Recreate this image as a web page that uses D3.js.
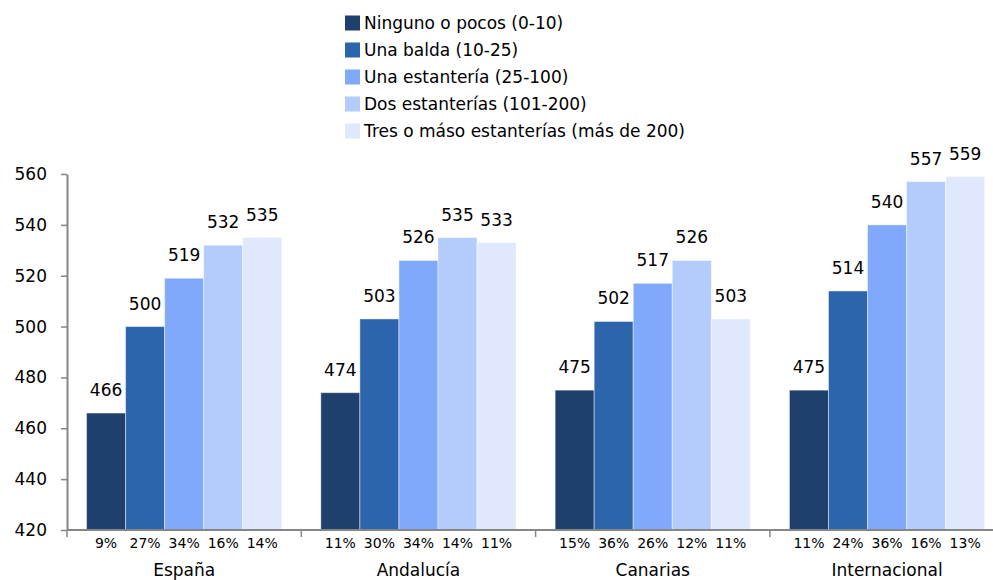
<!DOCTYPE html>
<html><head><meta charset="utf-8">
<script src="https://cdn.jsdelivr.net/npm/d3@7"></script>
<style>body{margin:0;background:#fff}text{font-family:"DejaVu Sans",sans-serif;fill:#000}</style>
</head><body><svg id="c" width="993" height="580"></svg>
<script>
const categories = ["España", "Andalucía", "Canarias", "Internacional"];
const seriesNames = ["Ninguno o pocos (0-10)", "Una balda (10-25)", "Una estantería (25-100)", "Dos estanterías (101-200)", "Tres o máso estanterías (más de 200)"];
const espana = [466, 500, 519, 532, 535];
const andalucia = [474, 503, 526, 535, 533];
const canarias = [475, 502, 517, 526, 503];
const internacional = [475, 514, 540, 557, 559];
const pctEspana = ["9%", "27%", "34%", "16%", "14%"];
const pctAndalucia = ["11%", "30%", "34%", "14%", "11%"];
const pctCanarias = ["15%", "36%", "26%", "12%", "11%"];
const pctInternacional = ["11%", "24%", "36%", "16%", "13%"];
const yTicks = [420, 440, 460, 480, 500, 520, 540, 560];
const colors = ["#1F3F6D", "#2C65AC", "#80A9FC", "#B3CCFC", "#DFE8FD"];

const values = [espana, andalucia, canarias, internacional];
const pcts = [pctEspana, pctAndalucia, pctCanarias, pctInternacional];

const svg = d3.select("#c");
const left = 67, bandW = 234.3;
const x0 = d3.scaleBand().domain(categories).range([left, left + bandW * categories.length]).paddingInner(0).paddingOuter(0);
const x1 = d3.scaleBand().domain(d3.range(seriesNames.length)).range([bandW / 12, bandW - bandW / 12]).padding(0);
const y = d3.scaleLinear().domain([420, 560]).range([530, 174]);

// bars
const g = svg.append("g");
categories.forEach((cat, ci) => {
  const cg = g.append("g").attr("transform", `translate(${x0(cat)},0)`);
  cg.selectAll("rect").data(values[ci]).join("rect")
    .attr("x", (d, i) => x1(i)).attr("width", x1.bandwidth())
    .attr("y", d => y(d)).attr("height", d => y(420) - y(d))
    .attr("fill", (d, i) => colors[i])
    .attr("stroke", "rgba(255,255,255,0.45)").attr("stroke-width", 1);
  cg.selectAll("text.v").data(values[ci]).join("text").attr("class", "v")
    .attr("x", (d, i) => x1(i) + x1.bandwidth() / 2).attr("y", d => y(d) - 17)
    .attr("text-anchor", "middle").style("font-size", "17px").text(d => d);
  cg.selectAll("text.p").data(pcts[ci]).join("text").attr("class", "p")
    .attr("x", (d, i) => x1(i) + x1.bandwidth() / 2).attr("y", 548)
    .attr("text-anchor", "middle").style("font-size", "14px").text(d => d);
  cg.append("text").attr("x", bandW / 2).attr("y", 576).attr("text-anchor", "middle")
    .style("font-size", "17px").text(cat);
});

// y axis
const yAxis = d3.axisLeft(y).tickValues(yTicks).tickSize(6).tickPadding(14).tickSizeOuter(0);
const ya = svg.append("g").attr("transform", `translate(${left},0)`).call(yAxis);
ya.select(".domain").attr("stroke", "#868686").attr("stroke-width", 2);
ya.selectAll(".tick line").attr("stroke", "#868686").attr("stroke-width", 1.5);
ya.selectAll(".tick text").style("font-size", "17px").style("font-family", "DejaVu Sans").attr("fill", "#000");

// x axis
const xa = svg.append("g").attr("transform", `translate(0,${y(420)})`);
xa.append("line").attr("x1", left).attr("x2", 993).attr("y1", 0).attr("y2", 0).attr("stroke", "#868686").attr("stroke-width", 2);
xa.selectAll("line.t").data(categories).join("line").attr("class", "t")
  .attr("x1", d => x0(d)).attr("x2", d => x0(d)).attr("y1", 0).attr("y2", 7)
  .attr("stroke", "#868686").attr("stroke-width", 1.5);

// legend
const lg = svg.append("g").attr("transform", "translate(345,23)");
seriesNames.forEach((s, i) => {
  const row = lg.append("g").attr("transform", `translate(0,${i * 27})`);
  row.append("rect").attr("x", 0).attr("y", -7.5).attr("width", 15).attr("height", 15).attr("fill", colors[i]);
  row.append("text").attr("x", 19).attr("y", 6).style("font-size", "17px").text(s);
});
</script></body></html>
